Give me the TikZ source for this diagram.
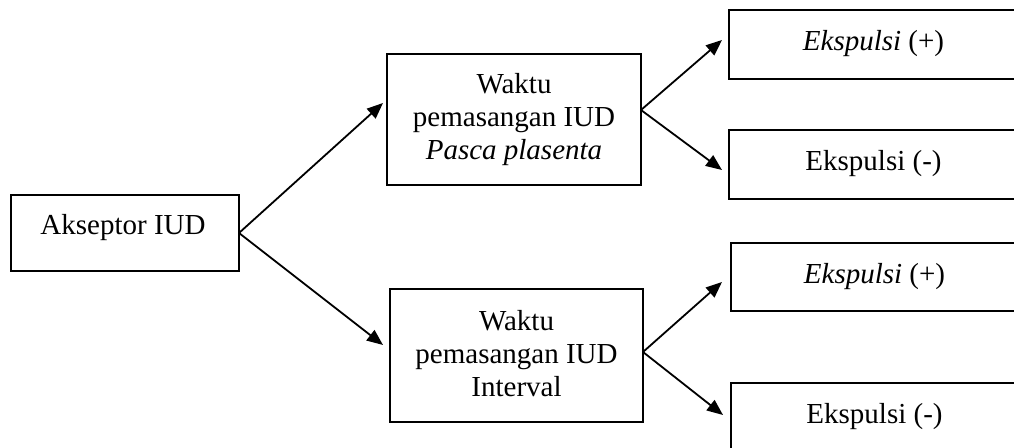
\documentclass[tikz,border=0pt]{standalone}
\usepackage{fontspec}
\setmainfont{Liberation Serif}
\usetikzlibrary{arrows.meta,calc}
\tikzset{
  box/.style={draw=black, line width=1.3pt, anchor=north west, inner sep=0pt, outer sep=0pt},
  txt/.style={anchor=north, inner sep=0pt, align=center, font=\fontsize{14.5pt}{16.5pt}\selectfont},
  arr/.style={-{Triangle[length=8pt,width=6.5pt]}, line width=0.9pt}
}
\begin{document}
\begin{tikzpicture}[x=0.5pt,y=-0.5pt]
\useasboundingbox (0,0) rectangle (1014,448);
\clip (0,0) rectangle (1014,448);
% boxes
\node[box, minimum width=114pt, minimum height=38pt] (ak) at (11,195) {};
\node[box, minimum width=127pt, minimum height=65.5pt] (pp) at (387,54) {};
\node[box, minimum width=126.5pt, minimum height=66.5pt] (iv) at (390,289) {};
\node[box, minimum width=144.5pt, minimum height=34.5pt] (e1) at (729,10) {};
\node[box, minimum width=144.5pt, minimum height=34.5pt] (e2) at (729,130) {};
\node[box, minimum width=143.5pt, minimum height=34pt] (e3) at (731,243) {};
\node[box, minimum width=143.5pt, minimum height=34.5pt] (e4) at (731,383) {};
% texts
\node[txt] (tak) at ($(ak.north)+(-2,19)$) {Akseptor IUD};
\node[txt] (tpp) at ($(pp.north)+(0,19)$) {Waktu\\pemasangan IUD\\\textit{Pasca plasenta}};
\node[txt] (tiv) at ($(iv.north)+(0,21)$) {Waktu\\pemasangan IUD\\Interval};
\node[txt] (te1) at ($(e1.north)+(0,20)$) {\textit{Ekspulsi} (+)};
\node[txt] (te2) at ($(e2.north)+(0,20)$) {Ekspulsi (-)};
\node[txt] (te3) at ($(e3.north)+(0,20)$) {\textit{Ekspulsi} (+)};
\node[txt] (te4) at ($(e4.north)+(0,20)$) {Ekspulsi (-)};
% connectors
\coordinate (ppout) at ($(pp.north east)+(0,56)$);
\coordinate (ivout) at ($(iv.north east)+(0,63)$);
\draw[arr] (ak.east) -- ($(pp.north west)+(-4,49)$);
\draw[arr] (ak.east) -- ($(iv.north west)+(-7,56)$);
\draw[arr] (ppout) -- ($(e1.north west)+(-7,30)$);
\draw[arr] (ppout) -- ($(e2.north west)+(-7,40)$);
\draw[arr] (ivout) -- ($(e3.north west)+(-9,39)$);
\draw[arr] (ivout) -- ($(e4.north west)+(-8,32)$);
\end{tikzpicture}
\end{document}
